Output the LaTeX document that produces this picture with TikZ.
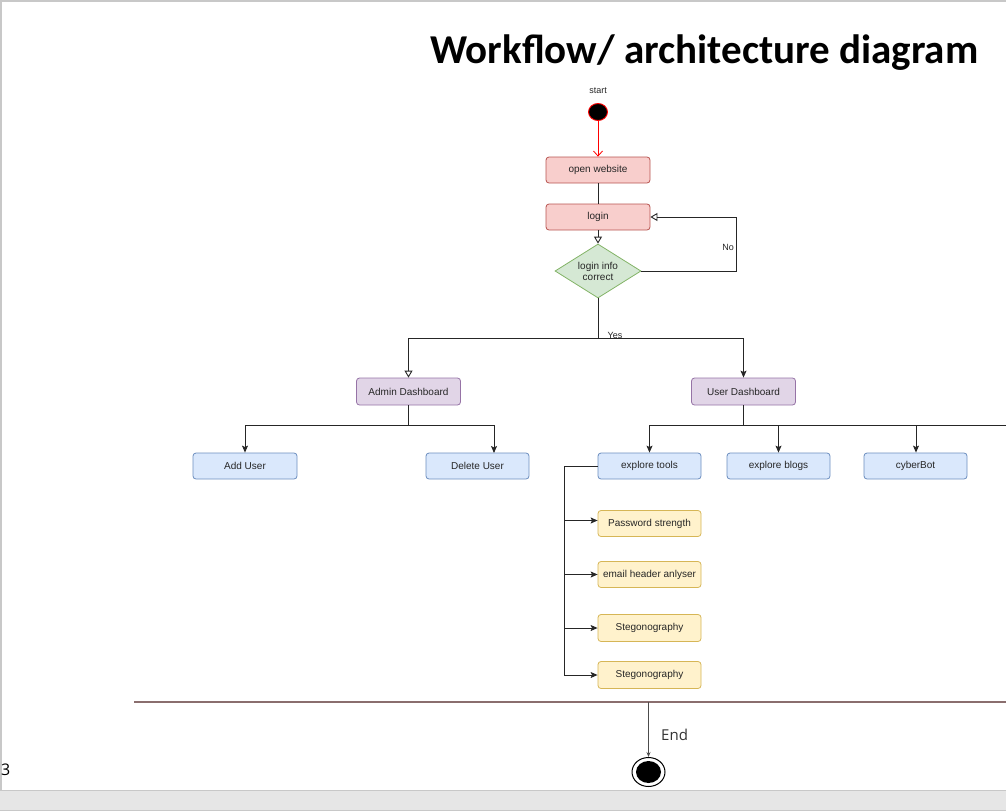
\documentclass[tikz,border=0pt]{standalone}
\usepackage{fontspec}
\setmainfont{Liberation Sans}
\newfontfamily\titlefont{Carlito}
\newfontfamily\uifont{Open Sans}
\usetikzlibrary{shapes.geometric,arrows.meta}
\definecolor{redfill}{HTML}{F8CECC}\definecolor{redline}{HTML}{B85450}
\definecolor{grnfill}{HTML}{D5E8D4}\definecolor{grnline}{HTML}{82B366}
\definecolor{purfill}{HTML}{E1D5E7}\definecolor{purline}{HTML}{9673A6}
\definecolor{blufill}{HTML}{DAE8FC}\definecolor{bluline}{HTML}{6C8EBF}
\definecolor{yelfill}{HTML}{FFF2CC}\definecolor{yelline}{HTML}{D6B656}
\definecolor{framegray}{HTML}{C8C8C8}\definecolor{barfill}{HTML}{E6E6E6}
\definecolor{sepcol}{HTML}{8A6E6E}
\definecolor{txt}{HTML}{262626}
\tikzset{
  box/.style={rectangle, rounded corners=3pt, minimum width=104pt, minimum height=26pt, inner sep=1pt, font=\fontsize{10}{12}\selectfont, text=txt, line width=0.8pt},
  redbox/.style={box, draw=redline, fill=redfill},
  purbox/.style={box, draw=purline, fill=purfill, minimum height=27pt},
  blubox/.style={box, draw=bluline, fill=blufill},
  yelbox/.style={box, draw=yelline, fill=yelfill},
  conn/.style={draw=black!85, line width=0.9pt},
  arr/.style={conn, -{Stealth[length=7pt,width=6pt,inset=1.5pt]}},
  opentri/.style={conn, -{Triangle[open,length=7pt,width=8pt,fill=white]}},
  lbl/.style={font=\fontsize{9}{11}\selectfont, text=txt, inner sep=1pt}
}
\begin{document}
\begin{tikzpicture}[x=1pt,y=-1pt]
\useasboundingbox (0,0) rectangle (1006,811);
% slide frame
\fill[barfill] (0,790) rectangle (1006,811);
\draw[framegray, line width=1pt] (0,790) -- (1006,790);
\draw[framegray, line width=1pt] (0,810.5) -- (1006,810.5);
\draw[framegray, line width=1.2pt] (1,790) -- (1,1) -- (1006,1);
% title
\node[anchor=base west, inner sep=0pt, font=\titlefont\bfseries\fontsize{41}{45}\selectfont] (title) at (430,63) {Workflow/ architecture diagram};
% start
\node[lbl] (starttxt) at (598,91) {start};
\node[ellipse, fill=black, draw=red, line width=0.9pt, minimum width=19pt, minimum height=17pt, inner sep=0pt] (start) at (598,112) {};
\node[redbox] (open) at (598,170) {open website};
\node[redbox] (login) at (598,217) {login};
\node[diamond, draw=grnline, fill=grnfill, line width=0.8pt, minimum width=86pt, minimum height=54pt, inner sep=0pt, aspect=1.6, align=center, text=txt, font=\fontsize{10}{11}\selectfont] (dia) at (598,271) {login info\\correct};
\node[purbox] (adm) at (408.5,391.5) {Admin Dashboard};
\node[purbox] (usr) at (743.5,391.5) {User Dashboard};
\node[blubox] (add) at (245,466) {Add User};
\node[blubox, minimum width=103pt] (del) at (477.5,466) {Delete User};
\node[blubox, minimum width=103pt] (tools) at (649.5,466) {explore tools};
\node[blubox, minimum width=103pt] (blogs) at (778.5,466) {explore blogs};
\node[blubox, minimum width=103pt] (bot) at (915.5,466) {cyberBot};
\node[yelbox, minimum width=103pt] (pw) at (649.5,523.5) {Password strength};
\node[yelbox, minimum width=103pt] (em) at (649.5,574.5) {email header anlyser};
\node[yelbox, minimum width=103pt, minimum height=27pt] (st1) at (649.5,628) {Stegonography};
\node[yelbox, minimum width=103pt, minimum height=27pt] (st2) at (649.5,675) {Stegonography};
% end
\node[ellipse, draw=black, line width=1pt, minimum width=33pt, minimum height=29pt, inner sep=0pt] (endc) at (648.5,772) {};
\node[ellipse, fill=black, minimum width=25pt, minimum height=22pt, inner sep=0pt] (endin) at (648.5,772) {};
\node[anchor=west, inner sep=0pt, font=\uifont\fontsize{15}{18}\selectfont, text=black!80] (endtxt) at (661,735) {End};
\node[anchor=west, inner sep=0pt, font=\uifont\fontsize{16}{18}\selectfont] (pagenum) at (1,770) {3};
% coordinates
\coordinate (yesj) at (598,338);
\coordinate (noc) at (736,271);
\coordinate (admj) at (408.5,425);
\coordinate (usrj) at (743.5,425);
\coordinate (usrend) at (1006,425);
\coordinate (delin) at (494,453);
\coordinate (tj) at (564,466);
\coordinate (tbot) at (564,675);
\coordinate (sepl) at (134,702);
\coordinate (sepr) at (1006,702);
\coordinate (endj) at (648.5,702);
% connectors
\draw[red, line width=0.8pt, -{Straight Barb[length=5pt,width=9pt]}] (start) -- (open);
\draw[conn] (open) -- (login);
\draw[opentri] (login) -- (dia);
\draw[opentri] (dia.east) -- (noc) |- (login.east);
\node[lbl] (no) at (728,247) {No};
\draw[conn] (dia.south) -- (yesj);
\draw[opentri] (yesj) -| (adm.north);
\draw[arr] (yesj) -| (usr.north);
\node[lbl] (yes) at (615,335) {Yes};
\draw[conn] (adm.south) -- (admj);
\draw[arr] (admj) -| (add.north);
\draw[arr] (admj) -| (delin);
\draw[conn] (usr.south) -- (usrj) -- (usrend);
\draw[arr] (usrj) -| (tools.north);
\draw[arr] (usrj) -| (blogs.north);
\draw[arr] (usrj) -| ([xshift=0.5pt]bot.north);
\draw[conn] (tools.west) -- (tj) -- (tbot);
\draw[arr] ([yshift=3pt]tj |- pw) -- ([yshift=3pt]pw.west);
\draw[arr] (tj |- em) -- (em.west);
\draw[arr] (tj |- st1) -- (st1.west);
\draw[arr] (tbot) -- (st2.west);
\draw[sepcol, line width=1.2pt] (sepl) -- (sepr);
\draw[draw=black!70, line width=0.8pt, -{Stealth[length=5pt,width=4pt]}] (endj) -- (endc.north);
\end{tikzpicture}
\end{document}
